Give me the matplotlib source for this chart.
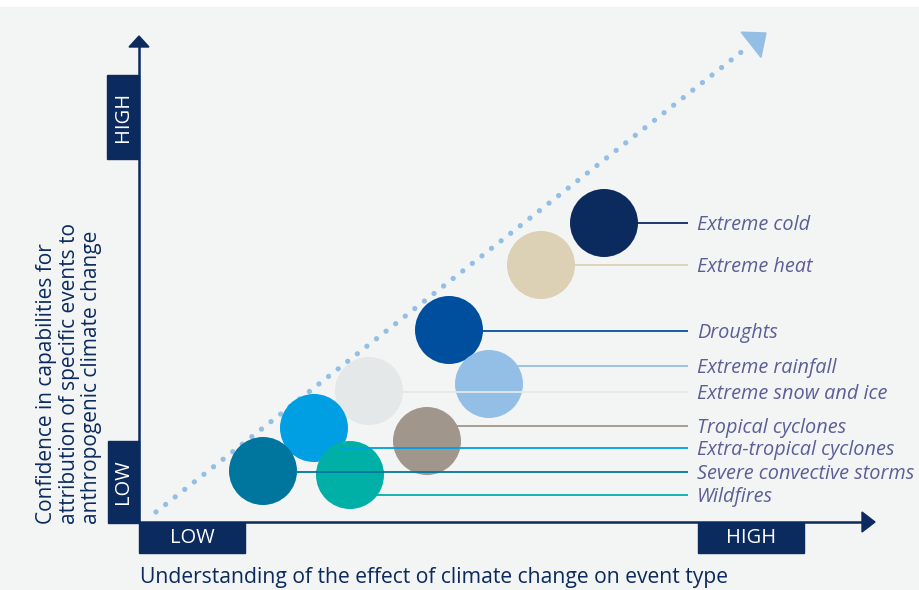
import numpy as np
import matplotlib.pyplot as plt
from matplotlib.patches import Circle, Rectangle, Polygon

plt.rcParams['font.family'] = ['Open Sans', 'DejaVu Sans']

# hazard types, position in chart units (origin at the axis corner)
events = ['Extreme cold', 'Extreme heat', 'Droughts', 'Extreme rainfall',
          'Extreme snow and ice', 'Tropical cyclones', 'Extra-tropical cyclones',
          'Severe convective storms', 'Wildfires']
understanding = [465, 402, 310, 350, 230, 288, 175, 124, 211]
confidence = [299, 257, 192, 138, 131, 81, 94, 51, 47]
label_y = [299, 257, 191, 156, 130, 96, 74, 50, 27]
colors = ['#0b2a5e', '#ddd1b5', '#004f9f', '#93bfe6', '#e4e8e8',
          '#a0968c', '#009fe3', '#00759e', '#00b0a7']

navy = '#0b2a5e'
dotblue = '#93bfe6'
labcol = '#5c5e96'
R = 34

fig = plt.figure(figsize=(9.19, 5.90), dpi=100)
fig.patch.set_facecolor('white')
ax = fig.add_axes([0, 0, 1, 1])
ax.set_xlim(-139, 780)
ax.set_ylim(-68, 522)
ax.axis('off')

# grey panel
ax.add_patch(Rectangle((-139, -68), 919, 583, color='#f3f4f4', zorder=0))

# diagonal dotted arrow
ax.plot([17, 610], [10, 476], color=dotblue, lw=3.8,
        linestyle=(0, (0.01, 2.3)), dash_capstyle='round', zorder=1)
tip = np.array([627.0, 489.0])
d = np.array([0.786, 0.618])
n = np.array([-d[1], d[0]])
base = tip - 19 * d
ax.add_patch(Polygon([tip, base + 16 * n, base - 16 * n], color=dotblue, zorder=1))

# circles
for u, c, col in zip(understanding, confidence, colors):
    ax.add_patch(Circle((u, c), R, color=col, zorder=2, lw=0))

# leader lines and labels
for ev, u, c, ly, col in zip(events, understanding, confidence, label_y, colors):
    ax.plot([u + np.sqrt(max(R**2 - (ly - c)**2, 0)) - 1, 549], [ly, ly],
            color=col, lw=1.3, zorder=3, solid_capstyle='butt')
    ax.text(558, ly - 2, ev, color=labcol, fontsize=14.3, style='italic',
            va='center', ha='left', zorder=4)

# axes
ax.plot([0, 0], [0, 477], color=navy, lw=1.8, zorder=5)
ax.add_patch(Polygon([[0, 486], [-10, 475], [10, 475]], color=navy, zorder=5))
ax.plot([0, 724], [0, 0], color=navy, lw=1.8, zorder=5)
ax.add_patch(Polygon([[736, 0], [723, 10], [723, -10]], color=navy, zorder=5))

# LOW / HIGH boxes
ax.add_patch(Rectangle((-32, 363), 32, 84, color=navy, zorder=5))
ax.text(-16, 405, 'HIGH', rotation=90, color='white', fontsize=14.5,
        ha='center', va='center', zorder=6)
ax.add_patch(Rectangle((-31, -1), 31, 82, color=navy, zorder=5))
ax.text(-15.5, 40, 'LOW', rotation=90, color='white', fontsize=14.5,
        ha='center', va='center', zorder=6)
ax.add_patch(Rectangle((0, -31), 106, 30, color=navy, zorder=5))
ax.text(53, -16, 'LOW', color='white', fontsize=14.5,
        ha='center', va='center', zorder=6)
ax.add_patch(Rectangle((559, -31), 106, 30, color=navy, zorder=5))
ax.text(612, -16, 'HIGH', color='white', fontsize=14.5,
        ha='center', va='center', zorder=6)

# axis titles
ax.text(1, -55, 'Understanding of the effect of climate change on event type',
        color=navy, fontsize=15.2, ha='left', va='center')
ax.text(-70, -2, 'Confidence in capabilities for\nattribution of specific events to\nanthropogenic climate change',
        color=navy, fontsize=15, rotation=90, ha='center', va='bottom',
        multialignment='left', linespacing=1.12)

fig.savefig('out.png', dpi=100)
